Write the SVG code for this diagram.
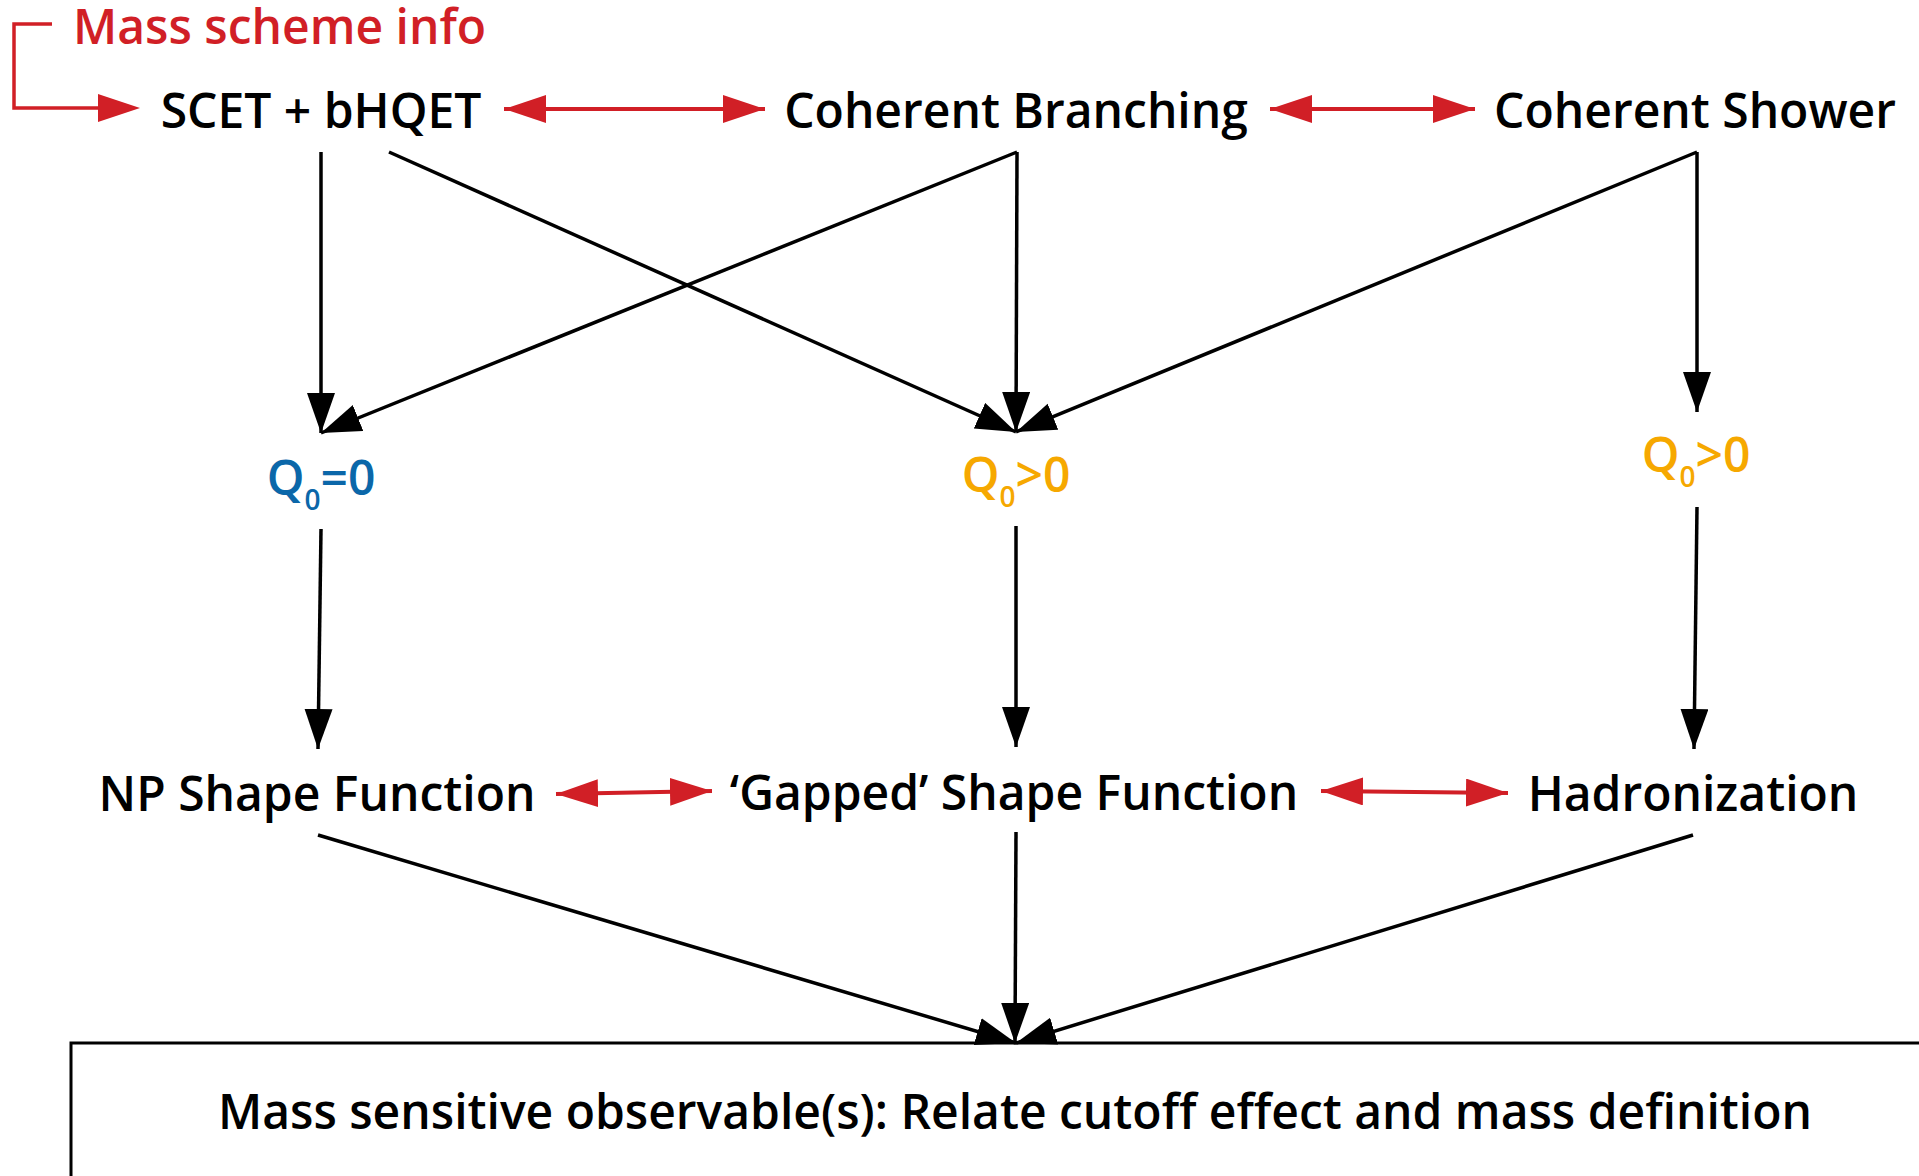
<svg xmlns="http://www.w3.org/2000/svg" width="1919" height="1176" viewBox="0 0 1919 1176">
  <style>
    .lbl { font-family: "Open Sans", "Noto Sans", "DejaVu Sans", sans-serif; font-size: 48px; font-weight: 600; fill: #000; text-anchor: middle; }
    .red { fill: #d11f26; }
    .q0 { font-family: "Open Sans", "Noto Sans", "DejaVu Sans", sans-serif; font-size: 48px; font-weight: 600; text-anchor: middle; }
    .blue { fill: #0b67a9; }
    .orange { fill: #f6a800; }
    .flow { stroke: #000; stroke-width: 3.5; fill: none; marker-end: url(#head); }
    .link { stroke: #d11f26; stroke-width: 4; fill: none; marker-start: url(#rhead); marker-end: url(#rhead); }
  </style>
  <defs>
    <marker id="head" markerUnits="userSpaceOnUse" markerWidth="44" markerHeight="32" refX="40" refY="14" orient="auto">
      <path d="M0,0 L40,14 L0,28 z" fill="#000"/>
    </marker>
    <marker id="rhead" markerUnits="userSpaceOnUse" markerWidth="46" markerHeight="32" refX="42" refY="14" orient="auto-start-reverse">
      <path d="M0,0 L42,14 L0,28 z" fill="#d11f26"/>
    </marker>
  </defs>

  <rect width="1919" height="1176" fill="#fff"/>

  <!-- mass scheme annotation -->
  <g id="mass-scheme">
    <text class="lbl red" x="73" y="44" style="text-anchor:start">Mass scheme info</text>
    <path d="M52,24 H14 V108 H100" stroke="#d11f26" stroke-width="3.5" fill="none"/>
    <path d="M98,94 L140,108 L98,122 z" fill="#d11f26"/>
  </g>

  <!-- top row -->
  <g id="scet"><text class="lbl" x="321" y="128">SCET + bHQET</text></g>
  <g id="coh-branching"><text class="lbl" x="1016" y="128">Coherent Branching</text></g>
  <g id="coh-shower"><text class="lbl" x="1695" y="128">Coherent Shower</text></g>

  <!-- cutoff row -->
  <g id="q0-zero"><text class="q0 blue" x="321" y="495">Q<tspan font-size="28" dy="15">0</tspan><tspan dy="-15">=0</tspan></text></g>
  <g id="q0-pos-mid"><text class="q0 orange" x="1016" y="492">Q<tspan font-size="28" dy="15">0</tspan><tspan dy="-15">&gt;0</tspan></text></g>
  <g id="q0-pos-right"><text class="q0 orange" x="1696" y="472">Q<tspan font-size="28" dy="15">0</tspan><tspan dy="-15">&gt;0</tspan></text></g>

  <!-- hadronization row -->
  <g id="np-shape"><text class="lbl" x="317" y="811">NP Shape Function</text></g>
  <g id="gapped-shape"><text class="lbl" x="1014" y="810">‘Gapped’ Shape Function</text></g>
  <g id="hadronization"><text class="lbl" x="1693" y="811">Hadronization</text></g>

  <!-- observable box -->
  <g id="observable">
    <path d="M71,1176 V1043 H1925" stroke="#000" stroke-width="3" fill="none"/>
    <text class="lbl" x="1015" y="1129">Mass sensitive observable(s): Relate cutoff effect and mass definition</text>
  </g>

  <!-- connectors -->
  <g id="connectors">
    <line class="link" x1="504" y1="109" x2="765" y2="109"/>
    <line class="link" x1="1270" y1="109" x2="1475" y2="109"/>
    <line class="link" x1="556" y1="794" x2="712" y2="791"/>
    <line class="link" x1="1321" y1="791" x2="1508" y2="793"/>

    <line class="flow" x1="321" y1="152" x2="321" y2="433"/>
    <line class="flow" x1="389" y1="152" x2="1016" y2="432"/>
    <line class="flow" x1="1017" y1="152" x2="321" y2="433"/>
    <line class="flow" x1="1017" y1="152" x2="1016" y2="432"/>
    <line class="flow" x1="1697" y1="152" x2="1016" y2="432"/>
    <line class="flow" x1="1697" y1="152" x2="1697" y2="412"/>

    <line class="flow" x1="321" y1="529" x2="318" y2="749"/>
    <line class="flow" x1="1016" y1="526" x2="1016" y2="747"/>
    <line class="flow" x1="1697" y1="507" x2="1694" y2="749"/>

    <line class="flow" x1="318" y1="835" x2="1016" y2="1043"/>
    <line class="flow" x1="1016" y1="832" x2="1015" y2="1043"/>
    <line class="flow" x1="1693" y1="835" x2="1016" y2="1043"/>
  </g>
</svg>
